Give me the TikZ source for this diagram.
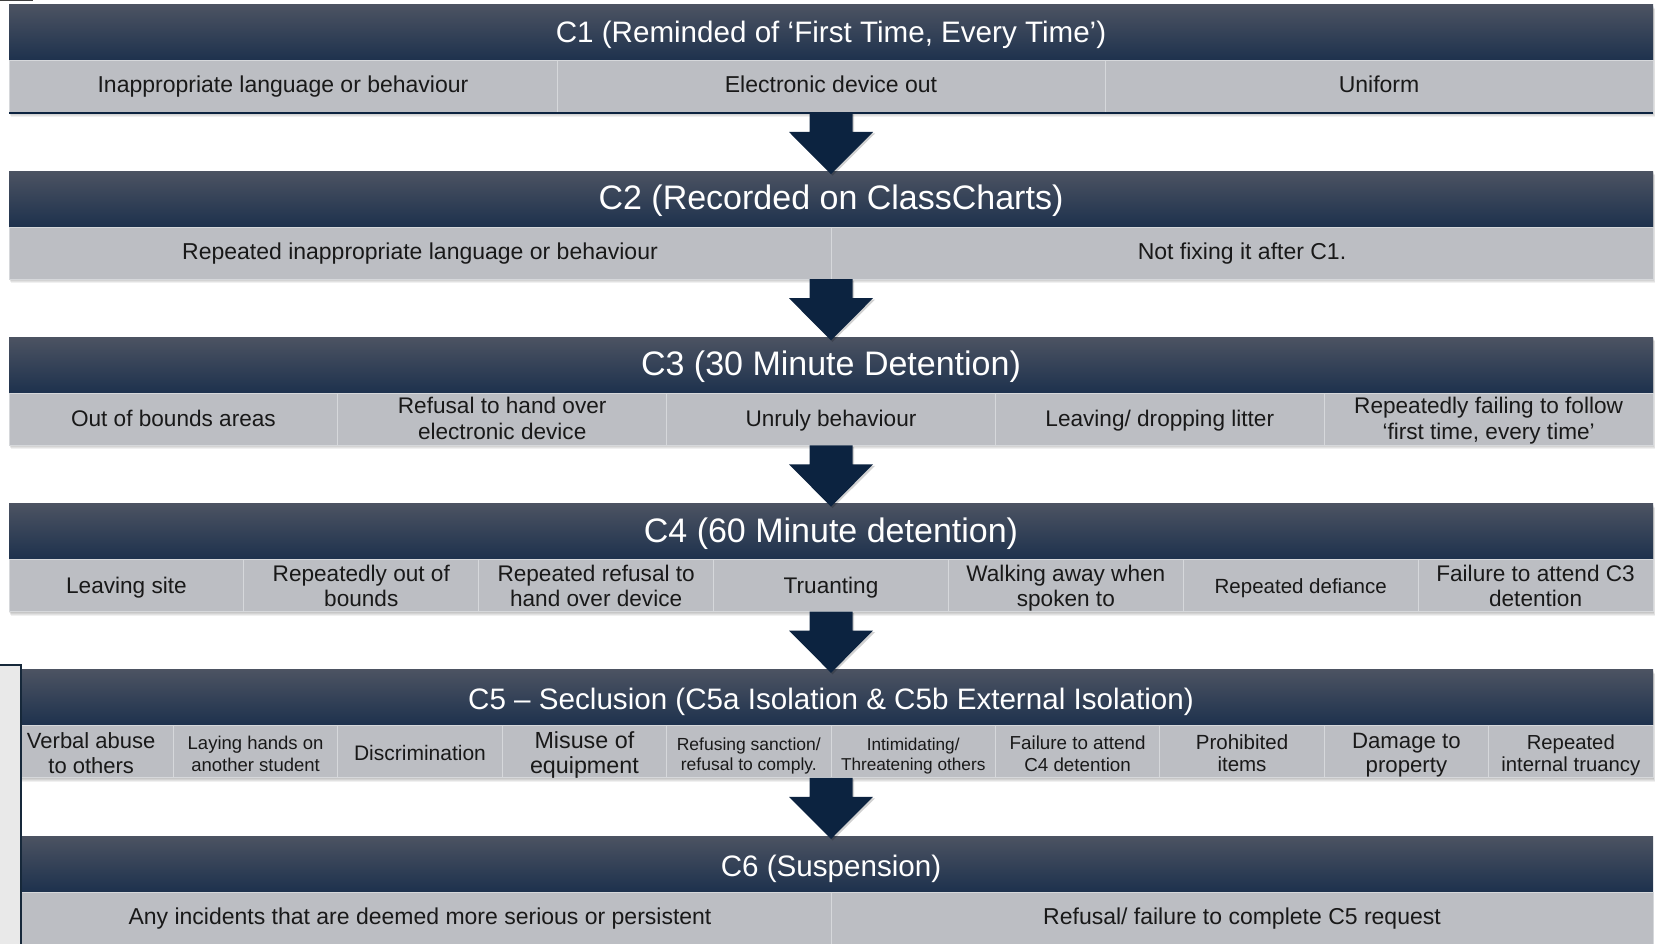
\documentclass[tikz,border=0pt]{standalone}
\usepackage{fontspec}
\setmainfont{Liberation Sans}
\usetikzlibrary{calc}
\definecolor{hdtop}{RGB}{76,83,98}
\definecolor{hdbot}{RGB}{29,49,77}
\definecolor{rowc}{RGB}{188,190,195}
\definecolor{celll}{RGB}{214,216,219}
\definecolor{navy}{RGB}{12,35,64}
\definecolor{panelc}{RGB}{233,233,233}
\definecolor{panelb}{RGB}{22,40,58}
\definecolor{txt}{RGB}{25,25,25}
\newlength\vshift
\newcommand\tx[1]{\raisebox{-\vshift}[\height][\depth]{\begin{tabular}{@{}c@{}}#1\end{tabular}}}
\newcommand\blkshadow[2]{%
  \foreach \s in {1,2,3,4}{\fill[black,opacity=0.06] (9+0.4*\s,#1+\s) rectangle (1653+0.6*\s,#2+\s);}}
\newcommand\blockarrow[2]{%
  \fill[black,opacity=0.18] ($(#1)+(-20,1.5)$) -- ($(#1)+(23,1.5)$) -- ($(#1)+(23,20.5)$) -- ($(#1)+(44,20.5)$) -- ($(#2)+(1.5,4.5)$) -- ($(#1)+(-40,20.5)$) -- ($(#1)+(-20,20.5)$) -- cycle;
  \fill[navy] ($(#1)+(-21.5,0)$) -- ($(#1)+(21.5,0)$) -- ($(#1)+(21.5,19)$) -- ($(#1)+(42,19)$) -- ($(#2)+(0,3)$) -- ($(#1)+(-42,19)$) -- ($(#1)+(-21.5,19)$) -- cycle;}
\begin{document}
\begin{tikzpicture}[x=1pt,y=-1pt,
  hdr/.style={rectangle, minimum width=1644pt, minimum height=56pt, inner sep=0pt, outer sep=0pt,
    top color=hdtop, bottom color=hdbot, text=white, anchor=north west},
  cell/.style={rectangle, minimum height=52pt, inner sep=0pt, outer sep=0pt, fill=rowc, draw=celll,
    line width=1pt, anchor=north west, text=txt},
  tsm/.style={font=\fontsize{29.6}{34}\selectfont},
  tbg/.style={font=\fontsize{34}{38}\selectfont},
  fr/.style={font=\fontsize{23}{26}\selectfont},
  frb/.style={font=\fontsize{22.6}{25.5}\selectfont},
  fs/.style 2 args={font=\fontsize{#1}{#2}\selectfont}]
\useasboundingbox (0,0) rectangle (1660,944);
\fill[white] (0,0) rectangle (1660,944);
\fill[black!75] (0,0) rectangle (33,1.5);

% C1
\blkshadow{5}{113}
\setlength\vshift{3.2pt}
\node[hdr,tsm] (h1) at (9,5) {\tx{C1 (Reminded of ‘First Time, Every Time’)}};
\setlength\vshift{0pt}
\node[cell,fr,minimum width=548pt] (c11) at (9,61) {\tx{Inappropriate language or behaviour}};
\node[cell,fr,minimum width=548pt] (c12) at (557,61) {\tx{Electronic device out}};
\node[cell,fr,minimum width=548pt] (c13) at (1105,61) {\tx{Uniform}};
\draw[navy,line width=2pt] (c11.south west) -- (c13.south east);
\coordinate (b1) at (c12.south);

% C2
\blkshadow{171.2}{279.2}
\setlength\vshift{3.2pt}
\node[hdr,tbg] (h2) at (9,171.2) {\tx{C2 (Recorded on ClassCharts)}};
\setlength\vshift{1pt}
\node[cell,fr,minimum width=822pt] (c21) at (9,227.2) {\tx{Repeated inappropriate language or behaviour}};
\node[cell,fr,minimum width=822pt] (c22) at (831,227.2) {\tx{Not fixing it after C1.}};
\coordinate (b2) at (c21.south east);

% C3
\blkshadow{337.4}{445.4}
\setlength\vshift{2.1pt}
\node[hdr,tbg] (h3) at (9,337.4) {\tx{C3 (30 Minute Detention)}};
\node[cell,frb,minimum width=328.8pt] (c31) at (9,393.4) {\tx{Out of bounds areas}};
\node[cell,frb,minimum width=328.8pt] (c32) at (337.8,393.4) {\tx{Refusal to hand over\\electronic device}};
\node[cell,frb,minimum width=328.8pt] (c33) at (666.6,393.4) {\tx{Unruly behaviour}};
\node[cell,frb,minimum width=328.8pt] (c34) at (995.4,393.4) {\tx{Leaving/ dropping litter}};
\node[cell,frb,minimum width=328.8pt] (c35) at (1324.2,393.4) {\tx{Repeatedly failing to follow\\‘first time, every time’}};
\coordinate (b3) at (c33.south);

% C4
\blkshadow{503.6}{611.6}
\setlength\vshift{3.2pt}
\node[hdr,tbg] (h4) at (9,503.6) {\tx{C4 (60 Minute detention)}};
\node[cell,frb,minimum width=234.86pt] (c41) at (9,559.6) {\tx{Leaving site}};
\node[cell,frb,minimum width=234.86pt] (c42) at (243.86,559.6) {\tx{Repeatedly out of\\bounds}};
\node[cell,frb,minimum width=234.86pt] (c43) at (478.71,559.6) {\tx{Repeated refusal to\\hand over device}};
\node[cell,frb,minimum width=234.86pt] (c44) at (713.57,559.6) {\tx{Truanting}};
\node[cell,frb,minimum width=234.86pt] (c45) at (948.43,559.6) {\tx{Walking away when\\spoken to}};
\node[cell,fs={20.5}{25},minimum width=234.86pt] (c46) at (1183.29,559.6) {\tx{Repeated defiance}};
\node[cell,frb,minimum width=234.86pt] (c47) at (1418.14,559.6) {\tx{Failure to attend C3\\detention}};
\coordinate (b4) at (c44.south);

% C5
\blkshadow{669.8}{777.8}
\setlength\vshift{5.3pt}
\node[hdr,tsm] (h5) at (9,669.8) {\tx{C5 – Seclusion (C5a Isolation \& C5b External Isolation)}};
\setlength\vshift{4.2pt}
\node[cell,fs={22}{25},minimum width=164.4pt] (c51) at (9,725.8) {\tx{Verbal abuse\\to others}};
\node[cell,fs={18.5}{22},minimum width=164.4pt] (c52) at (173.4,725.8) {\tx{Laying hands on\\another student}};
\node[cell,fs={21}{24},minimum width=164.4pt] (c53) at (337.8,725.8) {\tx{Discrimination}};
\node[cell,fs={23.3}{25},minimum width=164.4pt] (c54) at (502.2,725.8) {\tx{Misuse of\\equipment}};
\node[cell,fs={17.5}{20},minimum width=164.4pt] (c55) at (666.6,725.8) {\tx{Refusing sanction/\\refusal to comply.}};
\node[cell,fs={17.2}{20},minimum width=164.4pt] (c56) at (831,725.8) {\tx{Intimidating/\\Threatening others}};
\node[cell,fs={18.8}{22},minimum width=164.4pt] (c57) at (995.4,725.8) {\tx{Failure to attend\\C4 detention}};
\node[cell,fs={20.5}{22},minimum width=164.4pt] (c58) at (1159.8,725.8) {\tx{Prohibited\\items}};
\node[cell,fs={22.2}{24},minimum width=164.4pt] (c59) at (1324.2,725.8) {\tx{Damage to\\property}};
\node[cell,fs={20.3}{22},minimum width=164.4pt] (c5a) at (1488.6,725.8) {\tx{Repeated\\internal truancy}};
\coordinate (b5) at (c56.south west);

% C6
\setlength\vshift{5.3pt}
\node[hdr,tsm] (h6) at (9,836) {\tx{C6 (Suspension)}};
\setlength\vshift{1pt}
\node[cell,fr,minimum width=822pt] (c61) at (9,892) {\tx{Any incidents that are deemed more serious or persistent}};
\node[cell,fr,minimum width=822pt] (c62) at (831,892) {\tx{Refusal/ failure to complete C5 request}};

% arrows
\blockarrow{b1}{h2.north}
\blockarrow{b2}{h3.north}
\blockarrow{b3}{h4.north}
\blockarrow{b4}{h5.north}
\blockarrow{b5}{h6.north}

% left panel
\draw[panelb,line width=2pt,fill=panelc] (-4,665) rectangle (21,950);
\end{tikzpicture}
\end{document}
